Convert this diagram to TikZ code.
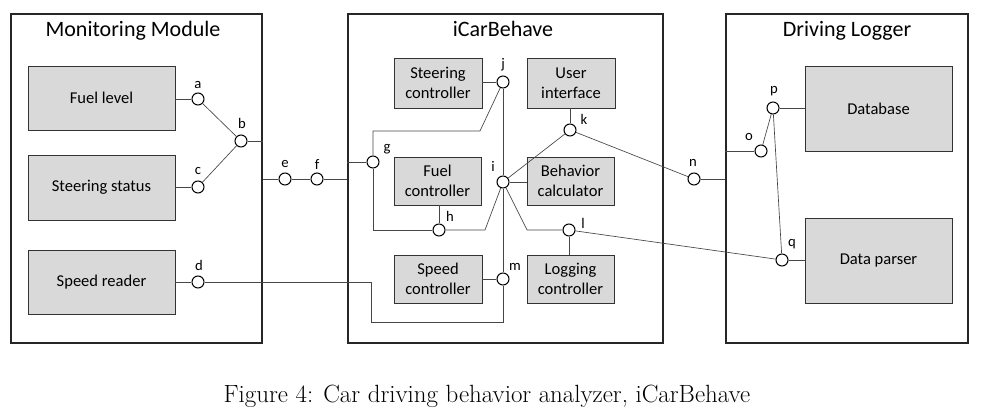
\documentclass[tikz,border=0pt]{standalone}
\usepackage{fontspec}
\newfontfamily\diafont{Carlito}
\usetikzlibrary{fit}
\definecolor{gfill}{RGB}{217,217,217}
\definecolor{lgray}{RGB}{70,70,70}
\begin{document}
\begin{tikzpicture}[x=0.75pt,y=-0.75pt,
  outer/.style={draw=black!85, line width=0.85pt, inner sep=0pt},
  gbox/.style={draw=black!80, fill=gfill, line width=0.7pt, align=center, inner sep=0pt,
     font=\diafont\fontsize{12.4}{15}\selectfont},
  port/.style={circle, draw=black, fill=white, line width=0.8pt, minimum size=9pt, inner sep=0pt},
  lbl/.style={font=\diafont\fontsize{11}{12}\selectfont, inner sep=0pt},
  conn/.style={draw=lgray, line width=0.5pt},
  ttl/.style={font=\diafont\fontsize{16.5}{19}\selectfont, anchor=base, inner sep=0pt}]
\useasboundingbox (0,0) rectangle (982,410);

% outer containers
\node[outer, fit={(11,14) (262,343)}] (MM) {};
\node[outer, fit={(348,14) (663,343)}] (IC) {};
\node[outer, fit={(726,14) (968,343)}] (DL) {};
\node[ttl] (tMM) at (133,37) {Monitoring Module};
\node[ttl] (tIC) at (503,37) {iCarBehave};
\node[ttl] (tDL) at (847,37) {Driving Logger};

% components
\node[gbox, minimum width=110.25pt, minimum height=48pt] (fuel) at (101.5,98) {Fuel level};
\node[gbox, minimum width=110.25pt, minimum height=48.75pt] (steer) at (101.5,187.5) {Steering status};
\node[gbox, minimum width=110.25pt, minimum height=48pt] (speed) at (101.5,282) {Speed reader};

\node[gbox, minimum width=66pt, minimum height=37.5pt] (sc) at (438,83) {Steering\\controller};
\node[gbox, minimum width=66pt, minimum height=37.5pt] (ui) at (571,83) {User\\interface};
\node[gbox, minimum width=65.25pt, minimum height=36pt] (fc) at (437.5,181) {Fuel\\controller};
\node[gbox, minimum width=65.25pt, minimum height=36pt] (bc) at (570.5,181) {Behavior\\calculator};
\node[gbox, minimum width=66pt, minimum height=36pt] (spc) at (438,279) {Speed\\controller};
\node[gbox, minimum width=65.25pt, minimum height=36pt] (lc) at (570.5,279) {Logging\\controller};

\node[gbox, minimum width=110.25pt, minimum height=63.75pt] (db) at (878.5,108.5) {Database};
\node[gbox, minimum width=110.25pt, minimum height=63.75pt] (dp) at (878.5,260.5) {Data parser};

% ports
\node[port] (a) at (198,99) {};
\node[port] (b) at (241,141) {};
\node[port] (c) at (198,187) {};
\node[port] (d) at (198,282) {};
\node[port] (e) at (285,179) {};
\node[port] (f) at (317,179) {};
\node[port] (g) at (373,162) {};
\node[port] (h) at (439,230) {};
\node[port] (i) at (503,182) {};
\node[port] (j) at (503,82) {};
\node[port] (k) at (570,130) {};
\node[port] (l) at (569,230) {};
\node[port] (m) at (503,279) {};
\node[port] (n) at (694,179) {};
\node[port] (o) at (761,151) {};
\node[port] (p) at (773,108) {};
\node[port] (q) at (782,260) {};

% port labels
\node[lbl] (la) at (198,85) {a};
\node[lbl] (lb) at (242,123) {b};
\node[lbl] (lcc) at (198,171) {c};
\node[lbl] (ld) at (199,265) {d};
\node[lbl] (le) at (285,164) {e};
\node[lbl] (lf) at (317,164) {f};
\node[lbl] (lg) at (387,149) {g};
\node[lbl] (lh) at (450,216) {h};
\node[lbl] (li) at (493,166) {i};
\node[lbl] (lj) at (503,65) {j};
\node[lbl] (lk) at (584,119) {k};
\node[lbl] (ll) at (583,223) {l};
\node[lbl] (lm) at (515,267) {m};
\node[lbl] (ln) at (693,163) {n};
\node[lbl] (lo) at (749,137) {o};
\node[lbl] (lp) at (774,91) {p};
\node[lbl] (lq) at (792,244) {q};

% bend coordinates
\coordinate (jg1) at (480,131);
\coordinate (jg2) at (373,131);
\coordinate (gh) at (373,230);
\coordinate (hi) at (485,230);
\coordinate (il) at (527,230);
\coordinate (md1) at (503,322);
\coordinate (md2) at (371,322);
\coordinate (md3) at (371,282);

% connectors, Monitoring Module
\draw[conn] (fuel.east |- a) -- (a);
\draw[conn] (steer.east |- c) -- (c);
\draw[conn] (speed.east |- d) -- (d);
\draw[conn] (a) -- (b);
\draw[conn] (c) -- (b);
\draw[conn] (b) -- (b -| MM.east);
\draw[conn] (e -| MM.east) -- (e) -- (f) -- (f -| IC.west);

% connectors, iCarBehave
\draw[conn] (g -| IC.west) -- (g);
\draw[conn] (g) -- (jg2) -- (jg1) -- (j);
\draw[conn] (g) -- (gh) -- (h);
\draw[conn] (h) -- (h |- fc.south);
\draw[conn] (h) -- (hi) -- (i);
\draw[conn] (sc.east |- j) -- (j);
\draw[conn] (j) -- (i);
\draw[conn] (i) -- (i -| bc.west);
\draw[conn] (i) -- (k);
\draw[conn] (k) -- (k |- ui.south);
\draw[conn] (i) -- (il) -- (l);
\draw[conn] (l) -- (l |- lc.north);
\draw[conn] (i) -- (m);
\draw[conn] (m) -- (m -| spc.east);
\draw[conn] (m) -- (md1) -- (md2) -- (md3) -- (d);

% connectors to Driving Logger
\draw[conn] (k) -- (n);
\draw[conn] (n) -- (n -| DL.west);
\draw[conn] (o -| DL.west) -- (o);
\draw[conn] (o) -- (p);
\draw[conn] (p) -- (p -| db.west);
\draw[conn] (p) -- (q);
\draw[conn] (l) -- (q);
\draw[conn] (q) -- (q -| dp.west);

% caption
\node[anchor=base, inner sep=0pt, font=\fontsize{18.7}{22}\selectfont] (cap) at (487,402) {Figure 4: Car driving behavior analyzer, iCarBehave};
\end{tikzpicture}
\end{document}
